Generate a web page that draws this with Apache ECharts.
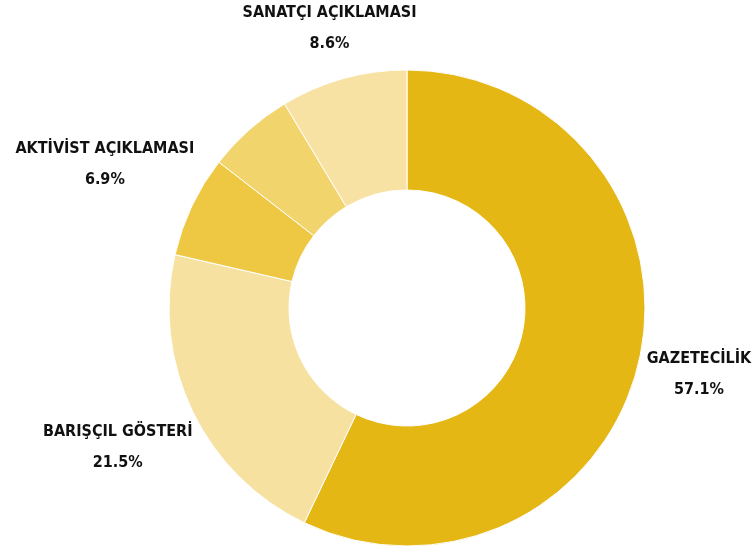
<!DOCTYPE html>
<html>
<head>
<meta charset="utf-8">
<script src="https://cdn.jsdelivr.net/npm/echarts@6/dist/echarts.min.js"></script>
<style>
html, body { margin: 0; padding: 0; background: #fff; }
#main { width: 756px; height: 554px; }
</style>
</head>
<body>
<div id="main"></div>
<script>
var categories = ['GAZETECİLİK', 'BARIŞÇIL GÖSTERİ', 'AKTİVİST AÇIKLAMASI', 'DİĞER', 'SANATÇI AÇIKLAMASI'];
var values = [57.1, 21.5, 6.9, 5.9, 8.6];
var colors = ['#E5B714', '#F6E1A0', '#EFC843', '#F2D46D', '#F7E2A3'];
var showLabel = [true, true, true, false, true];

var center = [407, 308];
var radius = [118, 238];
var startAngle = 90;
var labelGap = 5;

var total = values.reduce(function (a, b) { return a + b; }, 0);

// mid angle of each slice, clockwise from startAngle
function midAngle(idx) {
    var before = 0;
    for (var i = 0; i < idx; i++) before += values[i];
    var frac = (before + values[idx] / 2) / total;
    return (startAngle - frac * 360) * Math.PI / 180;
}

var myChart = echarts.init(document.getElementById('main'));

var option = {
    backgroundColor: '#ffffff',
    animation: false,
    series: [{
        type: 'pie',
        center: center,
        radius: radius,
        startAngle: startAngle,
        clockwise: true,
        itemStyle: {
            borderColor: '#ffffff',
            borderWidth: 1
        },
        label: {
            position: 'inside',
            formatter: '{b}\n{c}%',
            fontFamily: "'Liberation Sans Narrow', 'DejaVu Sans Condensed', sans-serif",
            fontWeight: 'bold',
            fontSize: 16,
            lineHeight: 31,
            color: '#111111',
            align: 'center'
        },
        labelLine: { show: false },
        // put each label just outside the ring, on the slice's mid-angle ray
        labelLayout: function (params) {
            var a = midAngle(params.dataIndex);
            var dx = Math.cos(a);
            var dy = -Math.sin(a);
            var w = params.labelRect.width;
            var h = params.labelRect.height;
            var dist = radius[1] + labelGap + Math.abs(dx) * w / 2 + Math.abs(dy) * h * 0.4;
            return {
                x: center[0] + dx * dist,
                y: center[1] + dy * dist,
                align: 'center',
                verticalAlign: 'middle'
            };
        },
        data: categories.map(function (name, i) {
            return {
                name: name,
                value: values[i],
                itemStyle: { color: colors[i] },
                label: { show: showLabel[i] }
            };
        })
    }]
};

myChart.setOption(option);
</script>
</body>
</html>
